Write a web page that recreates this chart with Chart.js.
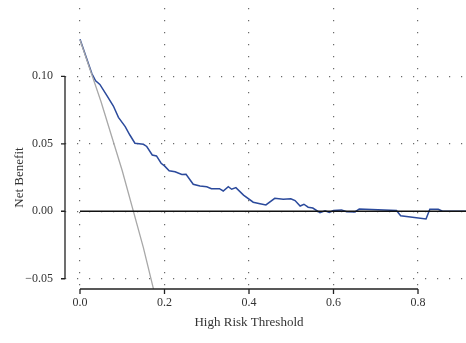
<!DOCTYPE html>
<html>
<head>
<meta charset="utf-8">
<script src="https://cdn.jsdelivr.net/npm/chart.js@4.4.1/dist/chart.umd.min.js"></script>
<style>
  html, body { margin: 0; padding: 0; background: #fff; }
  canvas { display: block; }
</style>
</head>
<body>
<canvas id="dca" width="466" height="343"></canvas>
<script>
// --- DATOS ---
const xTicks = [0, 0.2, 0.4, 0.6, 0.8];
const yTicks = [-0.05, 0, 0.05, 0.10];

// modelo (curva azul)
const modelX = [0.000, 0.028, 0.037, 0.047, 0.063, 0.079, 0.091, 0.107, 0.118, 0.130,
  0.140, 0.150, 0.158, 0.171, 0.181, 0.192, 0.200, 0.211, 0.225, 0.241,
  0.251, 0.268, 0.284, 0.300, 0.311, 0.330, 0.339, 0.351, 0.359, 0.369,
  0.387, 0.410, 0.426, 0.440, 0.461, 0.481, 0.499, 0.509, 0.521, 0.530,
  0.540, 0.551, 0.568, 0.580, 0.590, 0.600, 0.619, 0.631, 0.651, 0.661,
  0.749, 0.759, 0.819, 0.828, 0.848, 0.858, 0.915];
const modelY = [0.1274, 0.1020, 0.0967, 0.0940, 0.0860, 0.0780, 0.0696, 0.0627, 0.0565, 0.0504,
  0.0500, 0.0496, 0.0480, 0.0417, 0.0410, 0.0356, 0.0336, 0.0300, 0.0293, 0.0272,
  0.0274, 0.0200, 0.0187, 0.0182, 0.0167, 0.0167, 0.0150, 0.0182, 0.0163, 0.0175,
  0.0120, 0.0067, 0.0056, 0.0047, 0.0096, 0.0089, 0.0093, 0.0079, 0.0039, 0.0052,
  0.0030, 0.0024, -0.0010, 0.0004, -0.0009, 0.0005, 0.0010, -0.0003, -0.0005, 0.0017,
  0.0005, -0.0033, -0.0057, 0.0015, 0.0015, 0.0000, 0.0000];

// tratar a todos (linea gris)
const allX = [0.00, 0.05, 0.10, 0.15, 0.20];
const allY = [0.127, 0.081, 0.030, -0.027, -0.091];

// no tratar a nadie (linea negra)
const noneX = [0.00, 0.95];
const noneY = [0, 0];

const toPoints = (xs, ys) => xs.map((x, i) => ({ x: x, y: ys[i] }));

const FONT = "'Liberation Serif', 'Times New Roman', serif";

// ejes estilo R: linea solo entre el primer y ultimo tick
const axisPlugin = {
  id: 'rAxes',
  afterDraw(chart) {
    const { ctx, chartArea, scales } = chart;
    const sx = scales.x, sy = scales.y;
    ctx.save();
    ctx.strokeStyle = '#222';
    ctx.lineWidth = 1.3;
    ctx.beginPath();
    // eje y
    const yl = chartArea.left;
    ctx.moveTo(yl, sy.getPixelForValue(yTicks[yTicks.length - 1]));
    ctx.lineTo(yl, sy.getPixelForValue(yTicks[0]));
    yTicks.forEach(v => {
      const p = sy.getPixelForValue(v);
      ctx.moveTo(yl, p);
      ctx.lineTo(yl - 4, p);
    });
    // eje x
    const xb = chartArea.bottom;
    ctx.moveTo(sx.getPixelForValue(xTicks[0]), xb);
    ctx.lineTo(sx.getPixelForValue(xTicks[xTicks.length - 1]), xb);
    xTicks.forEach(v => {
      const p = sx.getPixelForValue(v);
      ctx.moveTo(p, xb);
      ctx.lineTo(p, xb + 5);
    });
    ctx.stroke();

    // titulos centrados sobre el tramo de cada eje
    ctx.fillStyle = '#333';
    ctx.font = "13px " + FONT;
    ctx.textAlign = 'center';
    ctx.textBaseline = 'middle';
    const xMid = (sx.getPixelForValue(xTicks[0]) + sx.getPixelForValue(xTicks[xTicks.length - 1])) / 2;
    ctx.fillText('High Risk Threshold', xMid, 322.5);
    const yMid = (sy.getPixelForValue(yTicks[0]) + sy.getPixelForValue(yTicks[yTicks.length - 1])) / 2;
    ctx.translate(20, yMid);
    ctx.rotate(-Math.PI / 2);
    ctx.fillText('Net Benefit', 0, 0);
    ctx.restore();
  }
};

const gridOpts = { color: '#6a6a6a', lineWidth: 1.2, drawTicks: false };
const borderOpts = { display: false, dash: [1.2, 10.8] };

new Chart(document.getElementById('dca').getContext('2d'), {
  type: 'line',
  data: {
    datasets: [
      {
        label: 'None',
        data: toPoints(noneX, noneY),
        borderColor: '#111',
        borderWidth: 1.3,
        pointRadius: 0
      },
      {
        label: 'All',
        data: toPoints(allX, allY),
        borderColor: '#a8a8a8',
        borderWidth: 1.3,
        pointRadius: 0
      },
      {
        label: 'Model',
        data: toPoints(modelX, modelY),
        borderColor: '#2b4a9c',
        borderWidth: 1.5,
        pointRadius: 0,
        tension: 0
      }
    ]
  },
  options: {
    responsive: false,
    animation: false,
    layout: { padding: { top: 8, right: 0, left: 0, bottom: 0 } },
    plugins: { legend: { display: false }, tooltip: { enabled: false } },
    scales: {
      x: {
        type: 'linear',
        min: -0.0355,
        max: 0.9136,
        grid: gridOpts,
        border: borderOpts,
        afterBuildTicks: s => { s.ticks = xTicks.map(v => ({ value: v })); },
        afterFit: s => { s.height = 54; s.paddingLeft = 0; s.paddingRight = 0; },
        ticks: {
          autoSkip: false,
          maxRotation: 0,
          padding: 7,
          color: '#333',
          font: { family: FONT, size: 12 },
          callback: v => v.toFixed(1)
        }
      },
      y: {
        type: 'linear',
        min: -0.0576,
        max: 0.1506,
        grid: gridOpts,
        border: borderOpts,
        afterBuildTicks: s => { s.ticks = yTicks.map(v => ({ value: v })); },
        afterFit: s => { s.width = 65; s.paddingTop = 0; s.paddingBottom = 0; },
        ticks: {
          autoSkip: false,
          padding: 12,
          color: '#333',
          font: { family: FONT, size: 12 },
          callback: v => (v < 0 ? '\u2212' : '') + Math.abs(v).toFixed(2)
        }
      }
    }
  },
  plugins: [axisPlugin]
});
</script>
</body>
</html>
